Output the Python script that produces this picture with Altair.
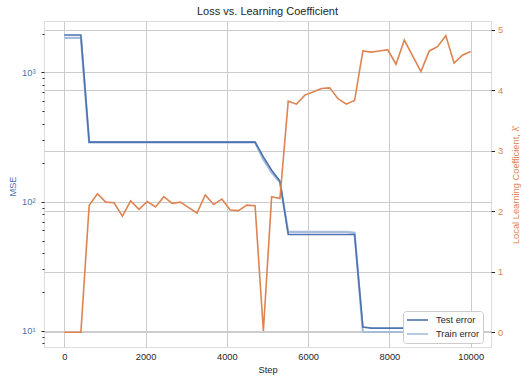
import altair as alt
import pandas as pd

steps = [0, 204, 408, 612, 816, 1020, 1224, 1429, 1633, 1837, 2041, 2245, 2449, 2653,
         2857, 3061, 3265, 3469, 3673, 3878, 4082, 4286, 4490, 4694, 4898, 5102, 5306,
         5510, 5714, 5918, 6122, 6327, 6531, 6735, 6939, 7143, 7347, 7551, 7755, 7959,
         8163, 8367, 8571, 8776, 8980, 9184, 9388, 9592, 9796, 10000]

test_err = ([1946] * 3 + [289] * 21 + [222, 175, 144] + [55.7] * 9 + [10.7] + [10.5] * 13)
train_err = ([1852] * 3 + [287] * 21 + [212, 168, 141] + [58.4] * 8 + [57.4] + [9.8] * 14)

llc = [0, 0, 0, 2.10, 2.29, 2.15, 2.14, 1.92, 2.17, 2.03, 2.16, 2.07, 2.24,
       2.13, 2.15, 2.06, 1.97, 2.27, 2.11, 2.20, 2.02, 2.01, 2.10, 2.09, 0.02,
       2.24, 2.21, 3.82, 3.77, 3.92, 3.97, 4.03, 4.04, 3.86, 3.77, 3.83, 4.65,
       4.63, 4.65, 4.67, 4.43, 4.83, 4.57, 4.31, 4.65, 4.72, 4.90, 4.45, 4.58, 4.64]

series_names = ["Test error", "Train error"]
BLUE = "#4C72B0"
LIGHT = "#A9BCDB"
ORANGE = "#DD8452"
TXT = "#262626"
GRID = "#cccccc"
FONT = "Liberation Sans"
FS = 9.3

df_test = pd.DataFrame({"step": steps, "mse": test_err, "series": "Test error"})
df_train = pd.DataFrame({"step": steps, "mse": train_err, "series": "Train error"})
df_llc = pd.DataFrame({"step": steps, "llc": llc})

x_enc = alt.X("step:Q", scale=alt.Scale(domain=[-500, 10500], nice=False, zero=False),
              axis=alt.Axis(values=[0, 2000, 4000, 6000, 8000, 10000], format="d", title="Step",
                            grid=True, ticks=False, domain=False, labelPadding=5,
                            labelColor=TXT, titleColor=TXT, titleFontWeight="normal",
                            labelFontSize=FS, titleFontSize=FS, titlePadding=4,
                            gridColor=GRID, labelFont=FONT, titleFont=FONT))

minor_vals = [8, 9, 10, 20, 30, 40, 50, 60, 70, 80, 90, 100, 200, 300, 400, 500, 600,
              700, 800, 900, 1000, 2000]
major_test = "datum.value == 10 || datum.value == 100 || datum.value == 1000"

y_axis = alt.Axis(values=minor_vals, title="MSE", orient="left",
                  labelExpr="datum.value == 10 ? '10¹' : datum.value == 100 ? '10²' : datum.value == 1000 ? '10³' : ''",
                  labelOverlap=False, labelColor=BLUE, titleColor=BLUE,
                  labelFontSize=FS, titleFontSize=FS, titleFontWeight="normal",
                  labelFont=FONT, titleFont=FONT, domain=False,
                  tickColor=TXT, tickSize={"condition": {"test": major_test, "value": 3}, "value": 2},
                  labelPadding=6, grid=True, gridColor=GRID,
                  gridOpacity={"condition": {"test": major_test, "value": 1}, "value": 0},
                  titleX=-32, titleY=165, titleBaseline="middle", titleAngle=270)

y_scale = alt.Scale(type="log", domain=[7.5, 2500], nice=False)
color_enc = alt.Color("series:N", scale=alt.Scale(domain=series_names, range=[BLUE, LIGHT]),
                      legend=alt.Legend(title=None, orient="none", legendX=359, legendY=290,
                                        symbolType="stroke", symbolSize=441,
                                        symbolStrokeWidth=1.6, clipHeight=12, rowPadding=2,
                                        padding=3, strokeColor=GRID, fillColor="white",
                                        cornerRadius=3, labelFontSize=FS, labelFont=FONT,
                                        labelColor=TXT, labelOffset=7))

train_line = alt.Chart(df_train).mark_line(strokeWidth=2.2).encode(
    x=x_enc, y=alt.Y("mse:Q", scale=y_scale, axis=y_axis), color=color_enc)
test_line = alt.Chart(df_test).mark_line(strokeWidth=1.6).encode(
    x=x_enc, y=alt.Y("mse:Q", scale=y_scale, axis=y_axis), color=color_enc)

llc_line = alt.Chart(df_llc).mark_line(color=ORANGE, strokeWidth=1.6).encode(
    x=x_enc,
    y=alt.Y("llc:Q", scale=alt.Scale(domain=[-0.245, 5.145], nice=False, zero=False),
            axis=alt.Axis(orient="right", values=[0, 1, 2, 3, 4, 5], format="d",
                          title="Local Learning Coefficient, λ̂",
                          labelColor=ORANGE, titleColor=ORANGE, labelFontSize=FS,
                          titleFontSize=FS, titleFontWeight="normal", labelFont=FONT,
                          titleFont=FONT, domain=False, tickColor=TXT, tickSize=3.5,
                          labelPadding=3, grid=True, gridColor=GRID,
                          titleX=24, titleY=164, titleBaseline="middle", titleAngle=270)))

blue = alt.layer(train_line, test_line)
chart = alt.layer(blue, llc_line).resolve_scale(y="independent").properties(
    width=447, height=326,
    title=alt.TitleParams("Loss vs. Learning Coefficient", fontSize=11, fontWeight="normal",
                          color=TXT, font=FONT, anchor="middle", offset=4),
    autosize=alt.AutoSizeParams(type="none"),
    padding={"left": 44, "top": 21, "right": 41, "bottom": 36},
).configure_view(stroke=GRID, strokeWidth=1).configure(background="white")

chart.save("out.html", embed_options={"renderer": "svg", "actions": False})
